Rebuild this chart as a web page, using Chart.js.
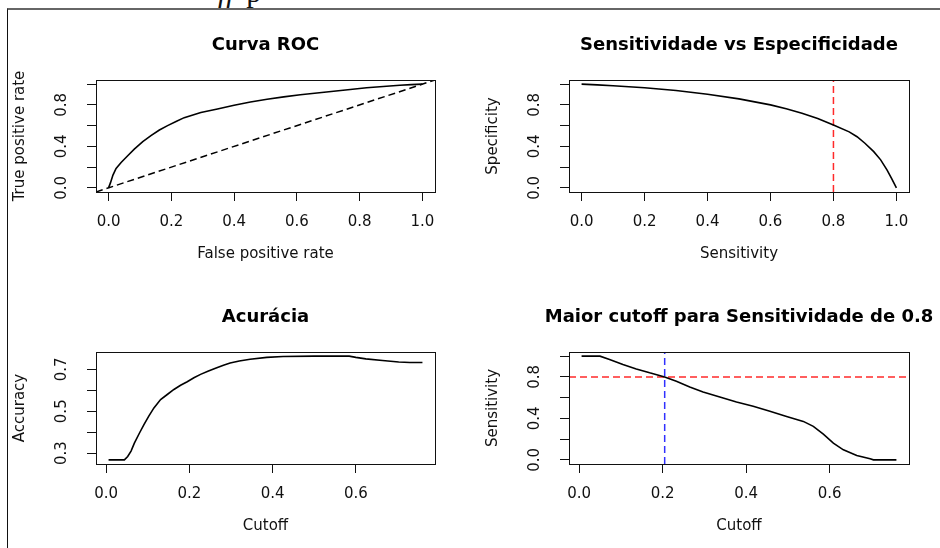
<!DOCTYPE html>
<html>
<head>
<meta charset="utf-8">
<script src="https://cdn.jsdelivr.net/npm/chart.js@4.4.1/dist/chart.umd.min.js"></script>
<style>
  html, body { margin: 0; padding: 0; background: #fff; }
  body { width: 940px; height: 548px; position: relative; overflow: hidden; }
  .frame { position: absolute; left: 7px; top: 8px; width: 940px; height: 548px;
           border-top: 2px solid #666; border-left: 1px solid #111; }
  .clip { position: absolute; left: 218px; top: -23px; font: italic 30px "Liberation Serif", serif;
          line-height: 30px; color: #111; word-spacing: 4px; }
  .clip span { font-style: normal; }
  .panel { position: absolute; width: 467px; height: 274px; }
</style>
</head>
<body>
<div class="clip">ff <span>p</span></div>
<div class="frame"></div>
<div class="panel" style="left:0;top:0"><canvas id="roc"></canvas></div>
<div class="panel" style="left:473px;top:0"><canvas id="sensSpec"></canvas></div>
<div class="panel" style="left:0;top:272px"><canvas id="accuracy"></canvas></div>
<div class="panel" style="left:473px;top:272px"><canvas id="cutoff"></canvas></div>

<script>
const FONT = "'DejaVu Sans', sans-serif";
const INK = "#111";

// Curva ROC
const rocFpr = [0, 0.006, 0.014, 0.024, 0.040, 0.061, 0.082, 0.109, 0.135, 0.162, 0.188, 0.215, 0.241,
  0.294, 0.347, 0.400, 0.452, 0.505, 0.558, 0.611, 0.664, 0.717, 0.770, 0.822, 0.875, 0.928, 0.964, 1.0];
const rocTpr = [0, 0.048, 0.123, 0.187, 0.245, 0.310, 0.374, 0.445, 0.503, 0.558, 0.600, 0.639, 0.677,
  0.726, 0.761, 0.797, 0.828, 0.855, 0.877, 0.897, 0.915, 0.932, 0.949, 0.965, 0.978, 0.990, 0.995, 1.0];
const unitTicks = [0, 0.2, 0.4, 0.6, 0.8, 1.0];
const unitXLabels = ["0.0", "0.2", "0.4", "0.6", "0.8", "1.0"];
const unitYLabels = ["0.0", "", "0.4", "", "0.8", ""];

// Sensitividade vs Especificidade
const ssSensitivity = [0, 0.05, 0.1, 0.2, 0.3, 0.4, 0.5, 0.6, 0.65, 0.7, 0.75, 0.8, 0.85, 0.875,
  0.9, 0.928, 0.95, 0.97, 0.985, 1.0];
const ssSpecificity = [1.0, 0.993, 0.984, 0.966, 0.939, 0.903, 0.858, 0.800, 0.762, 0.719, 0.668,
  0.605, 0.540, 0.493, 0.430, 0.349, 0.270, 0.173, 0.090, 0.0];
const ssMark = 0.8;

// Acuracia
const accCutoff = [0.006, 0.044, 0.052, 0.060, 0.068, 0.080, 0.091, 0.103, 0.115, 0.131, 0.147, 0.163,
  0.179, 0.195, 0.211, 0.227, 0.246, 0.266, 0.282, 0.298, 0.320, 0.346, 0.386, 0.425, 0.500, 0.545,
  0.584, 0.600, 0.624, 0.664, 0.703, 0.730, 0.760];
const accValue = [0.268, 0.268, 0.284, 0.310, 0.348, 0.395, 0.436, 0.478, 0.516, 0.556, 0.580, 0.604,
  0.624, 0.641, 0.660, 0.676, 0.692, 0.708, 0.720, 0.730, 0.740, 0.748, 0.757, 0.761, 0.763, 0.763,
  0.763, 0.757, 0.750, 0.742, 0.735, 0.733, 0.733];
const cutXTicks = [0, 0.2, 0.4, 0.6];
const cutXLabels = ["0.0", "0.2", "0.4", "0.6"];
const accYTicks = [0.3, 0.4, 0.5, 0.6, 0.7];
const accYLabels = ["0.3", "", "0.5", "", "0.7"];

// Maior cutoff para Sensitividade de 0.8
const mcCutoff = [0.006, 0.05, 0.073, 0.105, 0.137, 0.169, 0.205, 0.233, 0.265, 0.297, 0.337, 0.377,
  0.417, 0.457, 0.497, 0.537, 0.561, 0.585, 0.609, 0.633, 0.665, 0.697, 0.705, 0.76];
const mcSensitivity = [1.0, 1.0, 0.968, 0.919, 0.877, 0.839, 0.800, 0.758, 0.703, 0.655, 0.606, 0.558,
  0.516, 0.468, 0.419, 0.371, 0.323, 0.248, 0.161, 0.097, 0.042, 0.010, 0.0, 0.0];
const mcTarget = 0.8;
const mcBest = 0.205;

// R style axis range: data range widened by 4% on each side
function rRange(values) {
  const lo = Math.min(...values), hi = Math.max(...values);
  const pad = (hi - lo) * 0.04;
  return { min: lo - pad, max: hi + pad };
}

function zip(xs, ys) {
  return xs.map((x, i) => ({ x: x, y: ys[i] }));
}

// box around plot region + bold main title
const rPlot = {
  id: "rPlot",
  afterDraw(chart, args, opts) {
    const { ctx, chartArea: a } = chart;
    ctx.save();
    ctx.strokeStyle = INK;
    ctx.lineWidth = 1;
    ctx.strokeRect(Math.round(a.left) + 0.5, Math.round(a.top) + 0.5,
      Math.round(a.right - a.left), Math.round(a.bottom - a.top));
    ctx.fillStyle = "#000";
    ctx.font = "bold 18px " + FONT;
    ctx.textAlign = "center";
    ctx.textBaseline = "middle";
    ctx.fillText(opts.text, (a.left + a.right) / 2, a.top - 35);
    ctx.restore();
  }
};

function axis(ticks, labels, range, title, isX) {
  return {
    type: "linear",
    min: range.min,
    max: range.max,
    afterBuildTicks: (s) => { s.ticks = ticks.map((v) => ({ value: v })); },
    afterFit: (s) => { if (isX) s.height = 82; else s.width = 96; },
    ticks: {
      autoSkip: false,
      color: INK,
      font: { family: FONT, size: 15 },
      padding: isX ? 12 : 13,
      minRotation: isX ? 0 : 90,
      maxRotation: isX ? 0 : 90,
      crossAlign: isX ? "near" : "center",
      callback: (v, i) => labels[i]
    },
    grid: { drawOnChartArea: false, drawTicks: true, tickLength: 9, color: INK, lineWidth: 1 },
    border: { display: false },
    title: {
      display: true,
      text: title,
      color: INK,
      font: { family: FONT, size: 15 },
      padding: isX ? { top: 0, bottom: 11 } : { top: 11, bottom: 0 }
    }
  };
}

function panel(id, o) {
  const xr = rRange(o.x);
  const yr = rRange(o.y);
  const datasets = [{ data: zip(o.x, o.y), borderColor: "#000", borderWidth: 1.6 }];
  (o.lines || []).forEach((l) => {
    let pts;
    if (l.kind === "v") pts = [{ x: l.at, y: yr.min }, { x: l.at, y: yr.max }];
    else if (l.kind === "h") pts = [{ x: xr.min, y: l.at }, { x: xr.max, y: l.at }];
    else pts = [{ x: xr.min, y: xr.min }, { x: xr.max, y: xr.max }];
    datasets.push({ data: pts, borderColor: l.color, borderWidth: 1.5, borderDash: [7, 4] });
  });
  datasets.forEach((d) => { d.showLine = true; d.pointRadius = 0; d.tension = 0; d.fill = false; });

  new Chart(document.getElementById(id), {
    type: "scatter",
    data: { datasets: datasets },
    options: {
      responsive: true,
      maintainAspectRatio: false,
      animation: false,
      events: [],
      devicePixelRatio: 1,
      layout: { padding: { left: 0, top: 80, right: o.padRight, bottom: 0 } },
      plugins: {
        legend: { display: false },
        tooltip: { enabled: false },
        rPlot: { text: o.title }
      },
      scales: {
        x: axis(o.xTicks, o.xLabels, xr, o.xTitle, true),
        y: axis(o.yTicks, o.yLabels, yr, o.yTitle, false)
      }
    },
    plugins: [rPlot]
  });
}

panel("roc", {
  title: "Curva ROC", x: rocFpr, y: rocTpr, padRight: 32,
  xTicks: unitTicks, xLabels: unitXLabels, yTicks: unitTicks, yLabels: unitYLabels,
  xTitle: "False positive rate", yTitle: "True positive rate",
  lines: [{ kind: "diag", color: "#000" }]
});

panel("sensSpec", {
  title: "Sensitividade vs Especificidade", x: ssSensitivity, y: ssSpecificity, padRight: 31,
  xTicks: unitTicks, xLabels: unitXLabels, yTicks: unitTicks, yLabels: unitYLabels,
  xTitle: "Sensitivity", yTitle: "Specificity",
  lines: [{ kind: "v", at: ssMark, color: "#ff2a2a" }]
});

panel("accuracy", {
  title: "Acurácia", x: accCutoff, y: accValue, padRight: 32,
  xTicks: cutXTicks, xLabels: cutXLabels, yTicks: accYTicks, yLabels: accYLabels,
  xTitle: "Cutoff", yTitle: "Accuracy"
});

panel("cutoff", {
  title: "Maior cutoff para Sensitividade de 0.8", x: mcCutoff, y: mcSensitivity, padRight: 31,
  xTicks: cutXTicks, xLabels: cutXLabels, yTicks: unitTicks, yLabels: unitYLabels,
  xTitle: "Cutoff", yTitle: "Sensitivity",
  lines: [{ kind: "h", at: mcTarget, color: "#ff2a2a" }, { kind: "v", at: mcBest, color: "#3030ff" }]
});
</script>
</body>
</html>
